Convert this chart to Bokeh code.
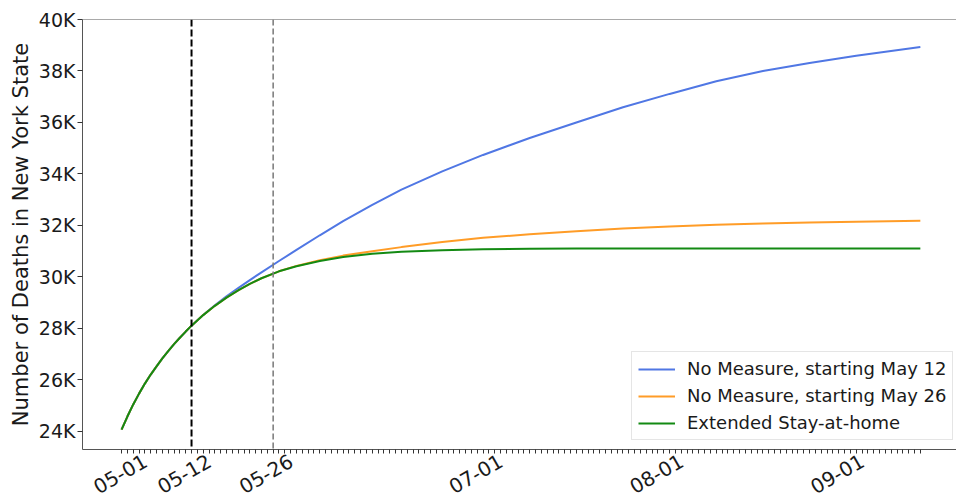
import math
import pandas as pd
from bokeh.plotting import figure
from bokeh.models import (Range1d, FixedTicker, CustomJSTickFormatter,
                          Span, Legend, LegendItem)
from bokeh.embed import file_html
from bokeh.resources import INLINE

# ---------------- data ----------------
dates = ["2020-04-30", "2020-05-01", "2020-05-02", "2020-05-03", "2020-05-04", "2020-05-05",
         "2020-05-06", "2020-05-07", "2020-05-08", "2020-05-09", "2020-05-10", "2020-05-11",
         "2020-05-12", "2020-05-14", "2020-05-16", "2020-05-18", "2020-05-20", "2020-05-22",
         "2020-05-24", "2020-05-27", "2020-05-30", "2020-06-03", "2020-06-07", "2020-06-12",
         "2020-06-17", "2020-06-24", "2020-07-01", "2020-07-09", "2020-07-17", "2020-07-25",
         "2020-08-02", "2020-08-10", "2020-08-18", "2020-08-26", "2020-09-03", "2020-09-14"]

# deaths, thousands
no_measure_may12 = [24.07, 24.58, 25.05, 25.47, 25.86, 26.21, 26.53, 26.84, 27.12, 27.39,
                    27.64, 27.88, 28.11, 28.52, 28.90, 29.25, 29.57, 29.88, 30.18, 30.62,
                    31.05, 31.62, 32.17, 32.80, 33.39, 34.10, 34.74, 35.40, 36.00, 36.59,
                    37.11, 37.60, 38.00, 38.31, 38.59, 38.93]
no_measure_may26 = [24.07, 24.58, 25.05, 25.47, 25.86, 26.21, 26.53, 26.84, 27.12, 27.39,
                    27.64, 27.88, 28.11, 28.52, 28.88, 29.20, 29.48, 29.73, 29.95, 30.22,
                    30.43, 30.65, 30.83, 31.00, 31.16, 31.36, 31.52, 31.66, 31.78, 31.88,
                    31.96, 32.03, 32.08, 32.12, 32.15, 32.18]
extended_stay = [24.07, 24.58, 25.05, 25.47, 25.86, 26.21, 26.53, 26.84, 27.12, 27.39,
                 27.64, 27.88, 28.11, 28.52, 28.88, 29.20, 29.48, 29.73, 29.95, 30.22,
                 30.42, 30.62, 30.78, 30.90, 30.98, 31.04, 31.08, 31.10, 31.11, 31.11,
                 31.11, 31.11, 31.11, 31.11, 31.11, 31.11]

series_names = ["No Measure, starting May 12", "No Measure, starting May 26", "Extended Stay-at-home"]
series_colors = ["#5077e4", "#ff9c27", "#138a13"]

measure_dates = ["2020-05-12", "2020-05-26"]
x_tick_dates = ["2020-05-01", "2020-05-12", "2020-05-26", "2020-07-01", "2020-08-01", "2020-09-01"]
x_tick_labels = ["05-01", "05-12", "05-26", "07-01", "08-01", "09-01"]
y_ticks = [24, 26, 28, 30, 32, 34, 36, 38, 40]

y_label = "Number of Deaths in New York State"

# ---------------- helpers ----------------
def ms(s):
    return pd.Timestamp(s).value / 1e6

x = pd.to_datetime(dates)
day_ms = 86400000.0
x_start = ms(dates[0]) - 6.7 * day_ms
x_end = ms(dates[-1]) + 6.2 * day_ms
minor = [ms(d) for d in pd.date_range(dates[0], dates[-1], freq="D")]
Y0, Y1 = 23.30, 40.0

# Bokeh anchors rotated labels by their end; shift the (invisible) label anchors so that
# each label is centred on its date like in the reference.
LABEL_SHIFT = 3.1 * day_ms
label_pos = [ms(d) + LABEL_SHIFT for d in x_tick_dates]

FONT = "DejaVu Sans"
INK = "#1a1a1a"
SPINE = "#555555"

p = figure(width=956, height=503, x_axis_type="datetime",
           x_range=Range1d(x_start, x_end), y_range=Range1d(Y0, Y1),
           output_backend="svg", toolbar_location=None,
           min_border_left=82, min_border_right=0, min_border_top=19, min_border_bottom=54)
p.grid.visible = False
p.outline_line_color = None
p.background_fill_color = "white"
p.border_fill_color = "white"

renderers = []
for vals, name, col in zip([no_measure_may12, no_measure_may26, extended_stay], series_names, series_colors):
    r = p.line(x, vals, line_color=col, line_width=2)
    renderers.append(r)

# vertical measure lines
p.add_layout(Span(location=ms(measure_dates[0]), dimension="height", line_color="black",
                  line_width=2, line_dash="7 3"))
p.add_layout(Span(location=ms(measure_dates[1]), dimension="height", line_color="#808080",
                  line_width=1.6, line_dash="6 3"))
# top spine
p.add_layout(Span(location=Y1, dimension="width", line_color=SPINE, line_width=1))

# x axis
xa = p.xaxis[0]
xa.ticker = FixedTicker(ticks=label_pos, minor_ticks=minor)
xa.formatter = CustomJSTickFormatter(
    args=dict(pos=label_pos, labels=x_tick_labels),
    code="""
    let best = 0, bd = Infinity;
    for (let i = 0; i < pos.length; i++) {
        const d = Math.abs(pos[i] - tick);
        if (d < bd) { bd = d; best = i; }
    }
    return labels[best];
    """)
xa.major_label_orientation = math.pi / 6
xa.major_label_text_font = FONT
xa.major_label_text_font_size = "20px"
xa.major_label_text_color = INK
xa.major_label_standoff = 6
xa.axis_line_color = SPINE
xa.major_tick_out = 4
xa.major_tick_in = 0
xa.major_tick_line_color = None
xa.minor_tick_out = 4
xa.minor_tick_in = 0
xa.minor_tick_line_color = "#333333"

# y axis
ya = p.yaxis[0]
ya.ticker = FixedTicker(ticks=y_ticks, minor_ticks=[])
ya.formatter = CustomJSTickFormatter(code="return tick.toFixed(0) + 'K';")
ya.major_label_text_font = FONT
ya.major_label_text_font_size = "19px"
ya.major_label_text_color = INK
ya.major_label_standoff = 2
ya.axis_label = y_label
ya.axis_label_text_font = FONT
ya.axis_label_text_font_size = "21px"
ya.axis_label_text_font_style = "normal"
ya.axis_label_text_color = INK
ya.axis_label_standoff = 3
ya.axis_line_color = SPINE
ya.major_tick_out = 5
ya.major_tick_in = 0
ya.major_tick_line_color = "#333333"

legend = Legend(items=[LegendItem(label=n, renderers=[r]) for n, r in zip(series_names, renderers)],
                location=(549, 9))
legend.label_text_font = FONT
legend.label_text_font_size = "18px"
legend.label_text_color = INK
legend.glyph_width = 37
legend.glyph_height = 20
legend.label_height = 20
legend.label_standoff = 12
legend.spacing = 6
legend.padding = 6
legend.margin = 0
legend.border_line_color = "#cccccc"
legend.border_line_width = 1
legend.background_fill_alpha = 0.85
p.add_layout(legend)

open("out.html", "w").write(file_html(p, INLINE))
